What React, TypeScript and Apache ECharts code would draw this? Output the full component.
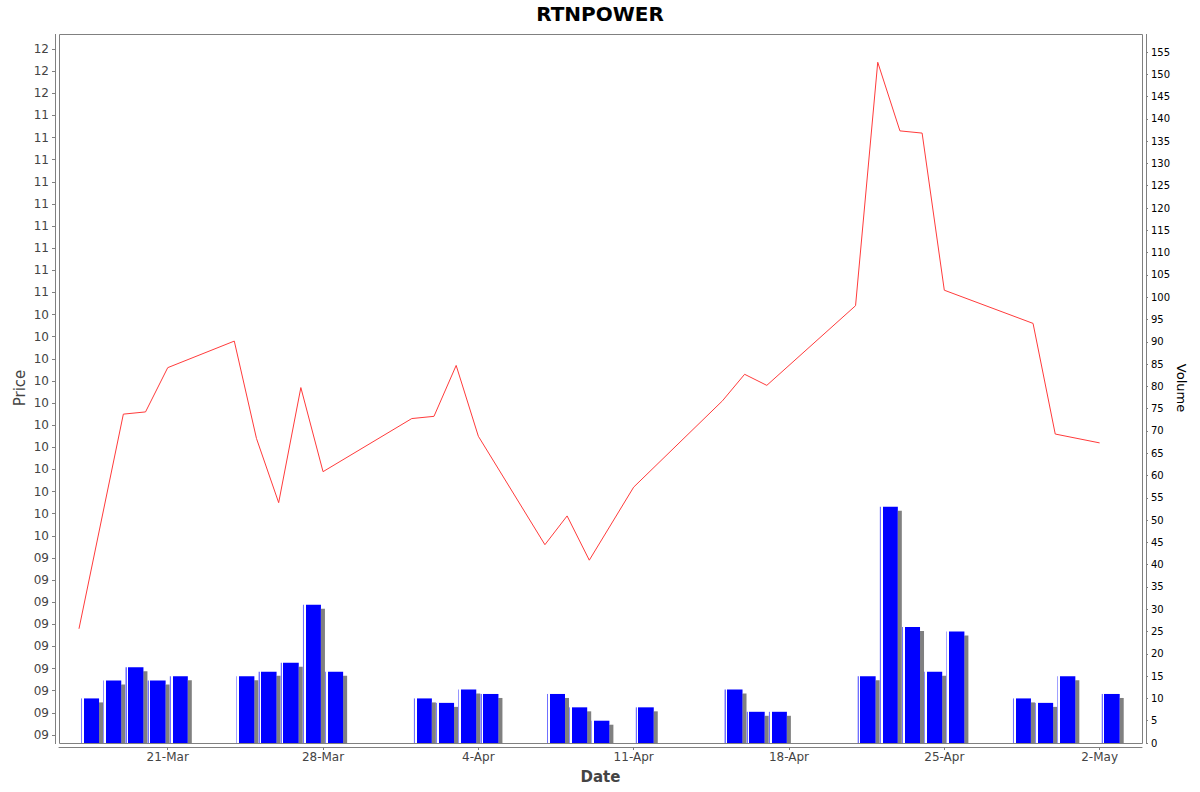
import React, { useEffect, useRef } from "react";
import * as echarts from "echarts";

// closing price per trading day
const priceDates = [
  "2025-03-17", "2025-03-19", "2025-03-20", "2025-03-21",
  "2025-03-24", "2025-03-25", "2025-03-26", "2025-03-27", "2025-03-28",
  "2025-04-01", "2025-04-02", "2025-04-03", "2025-04-04",
  "2025-04-07", "2025-04-08", "2025-04-09", "2025-04-11",
  "2025-04-15", "2025-04-16", "2025-04-17",
  "2025-04-21", "2025-04-22", "2025-04-23", "2025-04-24", "2025-04-25",
  "2025-04-29", "2025-04-30", "2025-05-02",
];
const prices = [
  9.08, 10.05, 10.06, 10.26,
  10.38, 9.94, 9.65, 10.17, 9.79,
  10.03, 10.04, 10.27, 9.95,
  9.46, 9.59, 9.39, 9.72,
  10.11, 10.23, 10.18,
  10.54, 11.64, 11.33, 11.32, 10.61,
  10.46, 9.96, 9.92,
];

// traded volume per day
const volumeDates = [
  "2025-03-17", "2025-03-18", "2025-03-19", "2025-03-20", "2025-03-21",
  "2025-03-24", "2025-03-25", "2025-03-26", "2025-03-27", "2025-03-28",
  "2025-04-01", "2025-04-02", "2025-04-03", "2025-04-04",
  "2025-04-07", "2025-04-08", "2025-04-09", "2025-04-11",
  "2025-04-15", "2025-04-16", "2025-04-17",
  "2025-04-21", "2025-04-22", "2025-04-23", "2025-04-24", "2025-04-25",
  "2025-04-28", "2025-04-29", "2025-04-30", "2025-05-02",
];
const volumes = [
  10, 14, 17, 14, 15,
  15, 16, 18, 31, 16,
  10, 9, 12, 11,
  11, 8, 5, 8,
  12, 7, 7,
  15, 53, 26, 16, 25,
  10, 9, 15, 11,
];

// weekly date ticks
const tickDates = [
  "2025-03-21", "2025-03-28", "2025-04-04", "2025-04-11",
  "2025-04-18", "2025-04-25", "2025-05-02",
];

const monthNames = ["Jan", "Feb", "Mar", "Apr", "May", "Jun", "Jul", "Aug", "Sep", "Oct", "Nov", "Dec"];

const DAY = 86400000;
const ORIGIN = Date.UTC(2025, 2, 21);

// days since 21-Mar
const dayOf = (s: string) => {
  const [y, m, d] = s.split("-").map(Number);
  return (Date.UTC(y, m - 1, d) - ORIGIN) / DAY;
};

const X_MIN = -4.9;
const X_MAX = 43.91;

const tickValues = tickDates.map(dayOf);

const dateLabel = (v: number) => {
  const d = new Date(ORIGIN + Math.round(v) * DAY);
  return `${d.getUTCDate()}-${monthNames[d.getUTCMonth()]}`;
};

// "00" format with half-even rounding
const priceLabel = (v: number) => {
  const t = Math.round(v * 10);
  let n = Math.floor(t / 10);
  const f = t - n * 10;
  if (f > 5 || (f === 5 && n % 2 === 1)) n += 1;
  return String(n).padStart(2, "0");
};

const FONT = "DejaVu Sans";
const GRAY = "#808080";

const App: React.FC = () => {
  const chartRef = useRef<HTMLDivElement>(null);

  useEffect(() => {
    const chart = echarts.init(chartRef.current!, undefined, { renderer: "svg" });

    const option: echarts.EChartsOption = {
      animation: false,
      backgroundColor: "#ffffff",
      textStyle: { fontFamily: FONT },
      title: {
        text: "RTNPOWER",
        left: "center",
        top: -1,
        textStyle: { fontFamily: FONT, fontSize: 20, fontWeight: "bold", color: "#000" },
      },
      grid: [
        { left: 59, right: 58, top: 49, bottom: 57 },
        { left: 59, right: 58, top: 52, bottom: 49 },
      ],
      xAxis: [
        {
          type: "value",
          gridIndex: 0,
          min: X_MIN,
          max: X_MAX,
          show: false,
          axisLine: { show: false, onZero: false },
        },
        {
          type: "value",
          gridIndex: 1,
          min: X_MIN,
          max: X_MAX,
          position: "bottom",
          offset: 4,
          name: "Date",
          nameLocation: "middle",
          nameGap: 22,
          nameTextStyle: { fontFamily: FONT, fontSize: 15, fontWeight: "bold", color: "#444" },
          axisLine: { show: true, onZero: false, lineStyle: { color: GRAY, width: 1 } },
          axisTick: { show: true, length: 3, customValues: tickValues, lineStyle: { color: GRAY } },
          axisLabel: {
            customValues: tickValues,
            formatter: dateLabel,
            color: "#444",
            fontSize: 12,
            margin: 4,
          },
          splitLine: { show: false },
        },
      ],
      yAxis: [
        {
          type: "value",
          gridIndex: 0,
          min: 8.6,
          max: 11.7,
          interval: 0.1,
          position: "left",
          offset: 4,
          axisLine: { show: false, onZero: false },
          axisTick: { show: true, length: 3, lineStyle: { color: GRAY } },
          axisLabel: { formatter: priceLabel, color: "#444", fontSize: 12, margin: 6 },
          splitLine: { show: false },
        },
        {
          type: "value",
          gridIndex: 1,
          min: 0,
          max: 155,
          interval: 5,
          position: "right",
          offset: 4,
          axisLine: { show: false, onZero: false },
          axisTick: { show: true, length: 2, lineStyle: { color: GRAY } },
          axisLabel: { color: "#000", fontSize: 10, margin: 5 },
          splitLine: { show: false },
        },
      ],
      series: [
        {
          name: "Volume",
          type: "bar",
          xAxisIndex: 1,
          yAxisIndex: 1,
          barWidth: 18,
          clip: true,
          // bar sits in the middle of the day period
          data: volumeDates.map((d, i) => [dayOf(d) + 0.5, volumes[i]]),
          itemStyle: {
            color: {
              type: "linear",
              x: 0,
              y: 0,
              x2: 1,
              y2: 0,
              colorStops: [
                { offset: 0, color: "#7070ff" },
                { offset: 0.06, color: "#7070ff" },
                { offset: 0.06, color: "#ffffff" },
                { offset: 0.15, color: "#ffffff" },
                { offset: 0.15, color: "#0000ff" },
                { offset: 1, color: "#0000ff" },
              ],
            },
            shadowColor: GRAY,
            shadowBlur: 0,
            shadowOffsetX: 4,
            shadowOffsetY: 4,
          },
        },
        {
          name: "Price",
          type: "line",
          xAxisIndex: 0,
          yAxisIndex: 0,
          showSymbol: false,
          data: priceDates.map((d, i) => [dayOf(d), prices[i]]),
          lineStyle: { color: "#ff3b3b", width: 1 },
        },
      ],
      graphic: [
        // hides the bar shadows spilling under the plot edge
        {
          type: "rect",
          z: 50,
          shape: { x: 56, y: 744, width: 1090, height: 3 },
          style: { fill: "#ffffff" },
          silent: true,
        },
        {
          type: "rect",
          z: 60,
          shape: { x: 59.5, y: 34.5, width: 1083, height: 709 },
          style: { fill: "none", stroke: GRAY, lineWidth: 1 },
          silent: true,
        },
        {
          type: "line",
          z: 60,
          shape: { x1: 55.5, y1: 34, x2: 55.5, y2: 744 },
          style: { stroke: GRAY, lineWidth: 1 },
          silent: true,
        },
        {
          type: "line",
          z: 60,
          shape: { x1: 1146.5, y1: 34, x2: 1146.5, y2: 744 },
          style: { stroke: GRAY, lineWidth: 1 },
          silent: true,
        },
        {
          type: "text",
          x: 20,
          y: 388,
          rotation: Math.PI / 2,
          style: {
            text: "Price",
            fill: "#444",
            font: `15px "${FONT}"`,
            align: "center",
            verticalAlign: "middle",
          },
        },
        {
          type: "text",
          x: 1181,
          y: 388,
          rotation: -Math.PI / 2,
          style: {
            text: "Volume",
            fill: "#000",
            font: `13px "${FONT}"`,
            align: "center",
            verticalAlign: "middle",
          },
        },
      ],
    };

    chart.setOption(option);

    return () => {
      chart.dispose();
    };
  }, []);

  return (
    <div
      ref={chartRef}
      style={{ position: "absolute", left: 0, top: 0, width: "1200px", height: "792px" }}
    ></div>
  );
};

export default App;
